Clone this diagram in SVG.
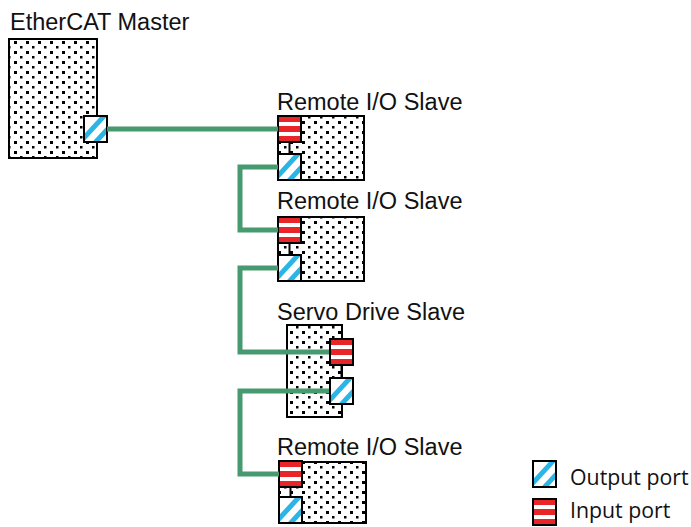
<svg xmlns="http://www.w3.org/2000/svg" xmlns:xlink="http://www.w3.org/1999/xlink" width="691" height="527" viewBox="0 0 691 527">
<style>
.lbl{font-family:"Liberation Sans",Arial,sans-serif;font-size:23.5px;fill:#111}
.leg{font-family:"Open Sans","Noto Sans",sans-serif;font-size:21.3px;fill:#111}
.box{fill:url(#dots);stroke:#000;stroke-width:2}
.wire{fill:none;stroke:#479a6f;stroke-width:5}
.link{stroke:#000;stroke-width:2}
</style>
<defs>
<pattern id="dots" width="12" height="10" patternUnits="userSpaceOnUse">
<rect width="12" height="10" fill="#fff"/>
<rect x="2" y="1" width="3" height="3" fill="#000"/>
<rect x="8" y="6" width="2.5" height="2.5" fill="#000"/>
</pattern>
<clipPath id="pc"><rect x="0" y="0" width="23" height="26"/></clipPath>
<g id="outp">
<rect x="0" y="0" width="23" height="26" fill="#fff"/>
<g clip-path="url(#pc)">
<line x1="-2" y1="24" x2="22" y2="-2" stroke="#2bb5e6" stroke-width="5"/>
<line x1="8" y1="30" x2="30" y2="6" stroke="#2bb5e6" stroke-width="5"/>
</g>
<rect x="0" y="0" width="23" height="26" fill="none" stroke="#000" stroke-width="2"/>
</g>
<g id="inp">
<rect x="0" y="0" width="23" height="26" fill="#fff"/>
<rect x="0" y="0" width="23" height="6" fill="#e8262a"/>
<rect x="0" y="10" width="23" height="6" fill="#e8262a"/>
<rect x="0" y="20" width="23" height="6" fill="#e8262a"/>
<rect x="0" y="0" width="23" height="26" fill="none" stroke="#000" stroke-width="2"/>
</g>
</defs>
<rect width="691" height="527" fill="#fff"/>

<g id="master">
<text class="lbl" x="10" y="30">EtherCAT Master</text>
<rect class="box" x="9" y="39" width="88" height="119"/>
<use xlink:href="#outp" x="84" y="116"/>
</g>

<g id="slave1">
<text class="lbl" x="277" y="110">Remote I/O Slave</text>
<rect class="box" x="278" y="116" width="86" height="64"/>
<line class="link" x1="289.5" y1="142" x2="289.5" y2="154"/>
<use xlink:href="#inp" x="278" y="116"/>
<use xlink:href="#outp" x="278" y="154"/>
</g>

<g id="slave2">
<text class="lbl" x="277" y="209">Remote I/O Slave</text>
<rect class="box" x="278" y="217" width="86" height="64"/>
<line class="link" x1="289.5" y1="243" x2="289.5" y2="255"/>
<use xlink:href="#inp" x="278" y="217"/>
<use xlink:href="#outp" x="278" y="255"/>
</g>

<g id="servo">
<text class="lbl" x="277" y="320">Servo Drive Slave</text>
<rect class="box" x="287" y="325" width="55" height="92"/>
<line class="link" x1="341.5" y1="365" x2="341.5" y2="378"/>
</g>

<g id="slave4">
<text class="lbl" x="277" y="455">Remote I/O Slave</text>
<rect class="box" x="279" y="462" width="87" height="61"/>
<line class="link" x1="290.5" y1="487" x2="290.5" y2="498"/>
<use xlink:href="#inp" x="279" y="461"/>
<use xlink:href="#outp" x="279" y="497"/>
</g>

<g id="connectors">
<polyline class="wire" points="107,129 278,129"/>
<polyline class="wire" points="278,167 240,167 240,230 278,230"/>
<polyline class="wire" points="278,268 240,268 240,352 330,352"/>
<polyline class="wire" points="330,391 240,391 240,474 279,474"/>
</g>

<g id="servo-ports">
<use xlink:href="#inp" x="330" y="339"/>
<use xlink:href="#outp" x="330" y="378"/>
</g>

<g id="legend">
<use xlink:href="#outp" x="533" y="461"/>
<text class="leg" x="570" y="485">Output port</text>
<use xlink:href="#inp" x="533" y="499"/>
<text class="leg" x="570" y="518">Input port</text>
</g>
</svg>
